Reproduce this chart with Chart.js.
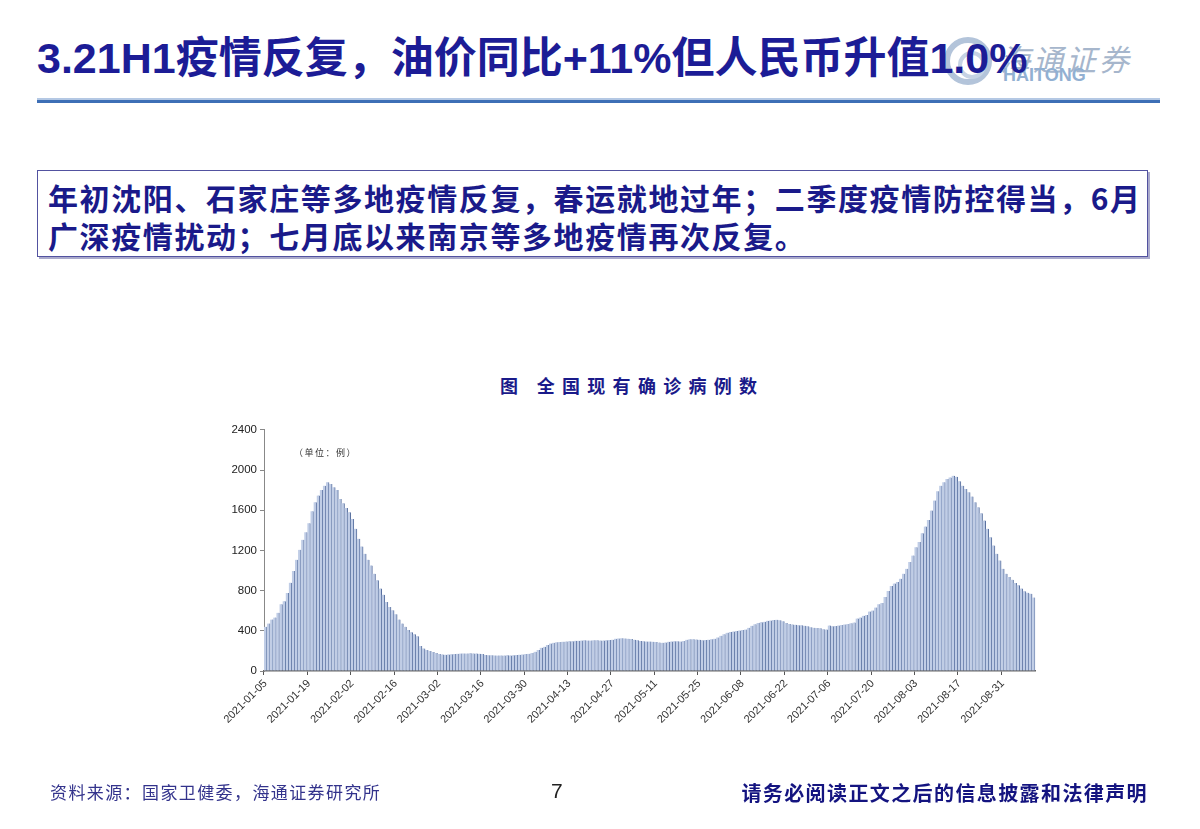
<!DOCTYPE html>
<html>
<head>
<meta charset="utf-8">
<script src="https://cdn.jsdelivr.net/npm/chart.js@4.4.1/dist/chart.umd.min.js"></script>
<style>
  html, body { margin: 0; padding: 0; background: #fff; }
  body { width: 1200px; height: 829px; position: relative; overflow: hidden;
         font-family: "Liberation Sans", "Noto Sans CJK SC", sans-serif; }
  .abs { position: absolute; white-space: nowrap; }
  #title { left: 37px; top: 36px; font-size: 43px; font-weight: bold; color: #1c1c96; line-height: 44px; z-index: 3; }
  #rule1 { left: 37px; top: 98px; width: 1123px; height: 2px; background: #b4c8e4; }
  #rule2 { left: 37px; top: 100px; width: 1123px; height: 3px; background: #3d6fb6; }
  #logoRing { left: 944px; top: 37px; width: 36px; height: 36px; border: 6px solid #b3c4da; border-radius: 50%; z-index: 1; }
  #logoCore { left: 958px; top: 51px; width: 20px; height: 20px; border: 4px solid #c6d3e4; border-radius: 50%; z-index: 1; }
  #logoCn { left: 1000px; top: 36px; font-size: 30px; color: #a6b6cc; font-style: italic; letter-spacing: 3px; z-index: 1; }
  #logoEn { left: 1003px; top: 65px; font-size: 18px; font-weight: bold; color: #92b0d2; z-index: 1; }
  #box { left: 37px; top: 170px; width: 1109px; height: 85px; border: 1px solid #5252a0;
         box-shadow: 2px 2px 0 #aaaacc; }
  .boxline { left: 48px; font-size: 30px; font-weight: bold; color: #1a1a8a; letter-spacing: 1.6px;
             font-family: "Noto Sans CJK SC", sans-serif; line-height: 34px; }
  #chartTitle { left: 500px; top: 372px; font-size: 18px; font-weight: bold; color: #1a1a8a;
                font-family: "Noto Sans CJK SC", sans-serif; letter-spacing: 7.3px; }
  #unit { left: 294px; top: 446px; font-size: 9px; color: #333; letter-spacing: 1.5px;
          font-family: "Noto Sans CJK SC", sans-serif; }
  #source { left: 50px; top: 779px; font-size: 17px; color: #33338c; letter-spacing: 1.4px;
            font-family: "Noto Sans CJK SC", sans-serif; }
  #page { left: 551px; top: 779px; font-size: 21px; color: #222; }
  #notice { right: 52px; top: 778px; font-size: 20px; font-weight: bold; color: #141480; letter-spacing: 1.4px;
            font-family: "Noto Sans CJK SC", sans-serif; }
  #wrap { position: absolute; left: 200px; top: 420px; width: 845px; height: 360px; }
</style>
</head>
<body>
<div class="abs" id="title">3.21H1疫情反复，油价同比+11%但人民币升值1.0%</div>
<div class="abs" id="logoRing"></div>
<div class="abs" id="logoCore"></div>
<div class="abs" id="logoCn">海通证券</div>
<div class="abs" id="logoEn">HAITONG</div>
<div class="abs" id="rule1"></div>
<div class="abs" id="rule2"></div>

<div class="abs" id="box"></div>
<div class="abs boxline" style="top:180px">年初沈阳、石家庄等多地疫情反复，春运就地过年；二季度疫情防控得当，6月</div>
<div class="abs boxline" style="top:218px">广深疫情扰动；七月底以来南京等多地疫情再次反复。</div>

<div class="abs" id="chartTitle">图 全国现有确诊病例数</div>
<div id="wrap"><canvas id="caseChart"></canvas></div>
<div class="abs" id="unit">（单位：例）</div>

<div class="abs" id="source">资料来源：国家卫健委，海通证券研究所</div>
<div class="abs" id="page">7</div>
<div class="abs" id="notice">请务必阅读正文之后的信息披露和法律声明</div>

<script>
// 现有确诊病例数，逐日，2021-01-05 起
const START_DATE = '2021-01-05';
const LABEL_STEP = 14;   // 每两周一个刻度标签
const Y_TICKS = [0, 400, 800, 1200, 1600, 2000, 2400];

const activeCases = [
  440, 473, 512, 532, 579, 664, 694, 777, 879, 995,
  1107, 1207, 1306, 1382, 1471, 1590, 1679, 1746, 1802, 1845,
  1878, 1861, 1828, 1802, 1712, 1670, 1623, 1580, 1514, 1415,
  1316, 1240, 1167, 1108, 1051, 969, 903, 820, 760, 688,
  638, 605, 565, 512, 473, 440, 407, 385, 365, 345,
  250, 225, 208, 198, 190, 180, 168, 165, 163, 165,
  166, 168, 172, 173, 175, 174, 176, 175, 174, 172,
  168, 160, 158, 156, 155, 154, 155, 154, 156, 155,
  157, 160, 163, 165, 168, 172, 180, 192, 208, 231,
  241, 258, 274, 281, 286, 289, 292, 294, 295, 297,
  300, 302, 304, 305, 303, 304, 306, 305, 303, 304,
  306, 308, 312, 322, 324, 325, 324, 322, 318, 310,
  305, 298, 295, 293, 294, 292, 288, 283, 281, 284,
  290, 293, 295, 296, 294, 298, 310, 316, 315, 314,
  310, 306, 308, 312, 316, 322, 334, 350, 367, 380,
  388, 393, 398, 403, 407, 412, 430, 450, 466, 479,
  486, 490, 499, 503, 507, 510, 506, 495, 479, 468,
  464, 460, 456, 455, 450, 445, 435, 430, 428, 425,
  415, 412, 452, 446, 448, 452, 458, 464, 468, 476,
  482, 522, 532, 550, 558, 592, 602, 631, 665, 678,
  737, 797, 845, 870, 885, 919, 969, 1018, 1084, 1150,
  1233, 1283, 1372, 1438, 1504, 1597, 1696, 1789, 1845, 1878,
  1911, 1927, 1944, 1934, 1888, 1845, 1812, 1779, 1736, 1680,
  1630, 1570, 1498, 1415, 1332, 1250, 1167, 1101, 1018, 969,
  936, 909, 876, 853, 820, 793, 780, 770, 731
];

// 日期类别
const dates = [];
const d0 = new Date(START_DATE + 'T00:00:00Z');
for (let i = 0; i < activeCases.length; i++) {
  const d = new Date(d0.getTime() + i * 86400000);
  dates.push(d.toISOString().slice(0, 10));
}

const AXIS_FAMILY = '"Liberation Sans", Arial, sans-serif';

new Chart(document.getElementById('caseChart').getContext('2d'), {
  type: 'bar',
  data: {
    labels: dates,
    datasets: [{
      data: activeCases,
      backgroundColor: 'rgb(192,205,230)',
      borderColor: 'rgb(86,110,158)',
      borderWidth: { left: 0, right: 1, top: 0, bottom: 0 },
      borderSkipped: false,
      barPercentage: 1,
      categoryPercentage: 1
    }]
  },
  options: {
    responsive: true,
    maintainAspectRatio: false,
    animation: false,
    layout: { padding: { top: 9, right: 8, left: 0, bottom: 0 } },
    plugins: { legend: { display: false }, tooltip: { enabled: false } },
    scales: {
      x: {
        afterFit: (s) => { s.height = 109; },
        border: { color: '#666', width: 1.5 },
        grid: {
          drawOnChartArea: false,
          tickLength: 4,
          color: (ctx) => (ctx.index % LABEL_STEP === 0 ? '#555' : 'rgba(0,0,0,0)')
        },
        ticks: {
          autoSkip: false,
          maxRotation: 45,
          minRotation: 45,
          padding: 2,
          color: '#333',
          font: { family: AXIS_FAMILY, size: 11 },
          callback: (v, i) => (i % LABEL_STEP === 0 ? dates[i] : '')
        }
      },
      y: {
        min: 0,
        max: 2400,
        afterFit: (s) => { s.width = 64; },
        afterBuildTicks: (s) => { s.ticks = Y_TICKS.map(v => ({ value: v })); },
        border: { color: '#888', width: 1 },
        grid: { drawOnChartArea: false, tickLength: 4, color: '#888' },
        ticks: {
          color: '#222',
          font: { family: AXIS_FAMILY, size: 11.5 },
          padding: 3,
          callback: (v) => String(v)
        }
      }
    }
  }
});
</script>
</body>
</html>
